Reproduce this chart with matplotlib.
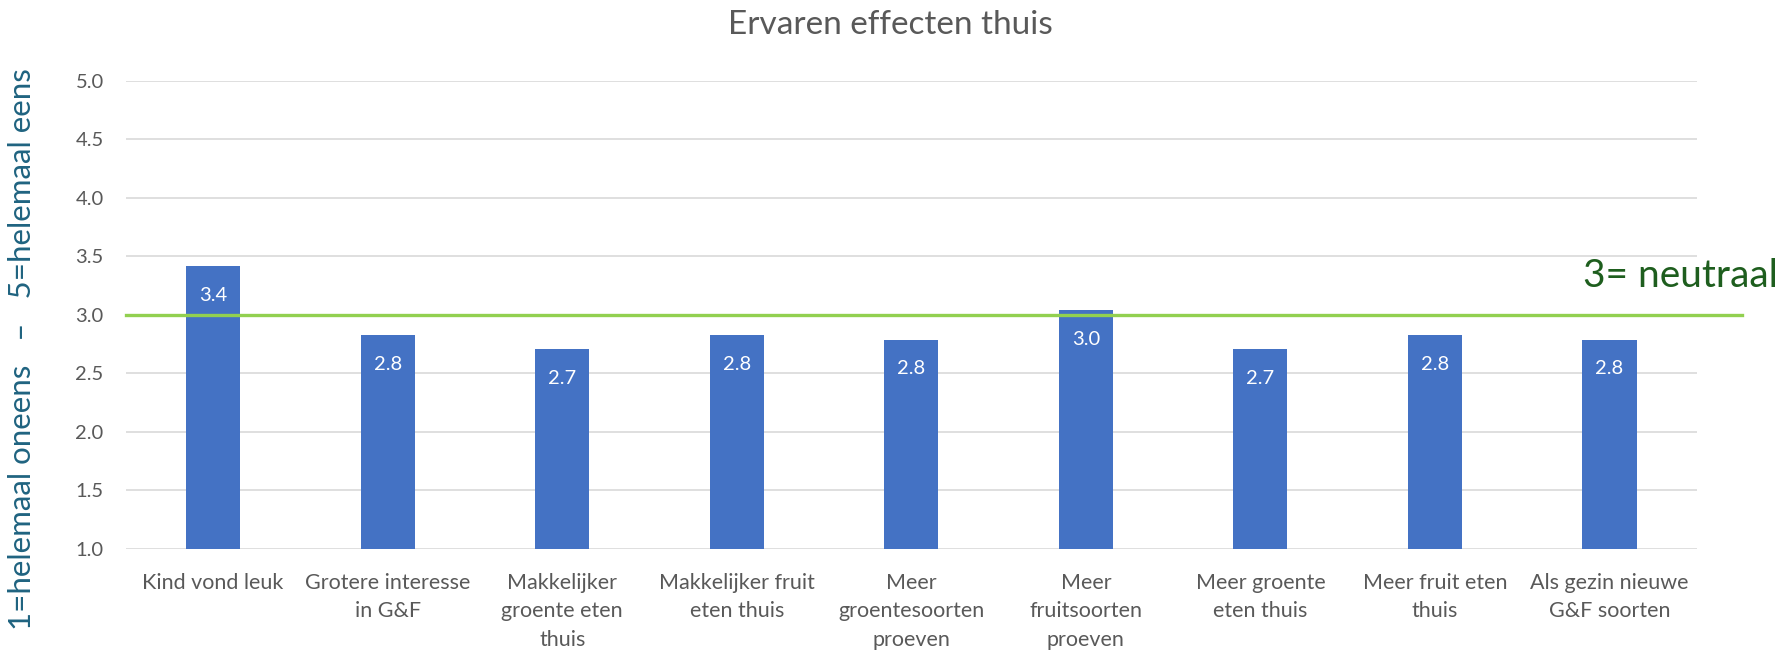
import matplotlib.pyplot as plt
import numpy as np

categories = ['Kind vond leuk', 'Grotere interesse\nin G&F', 'Makkelijker\ngroente eten\nthuis',
              'Makkelijker fruit\neten thuis', 'Meer\ngroentesoorten\nproeven', 'Meer\nfruitsoorten\nproeven',
              'Meer groente\neten thuis', 'Meer fruit eten\nthuis', 'Als gezin nieuwe\nG&F soorten']
values = [3.42, 2.83, 2.71, 2.83, 2.79, 3.04, 2.71, 2.83, 2.79]
neutral = 3.0
yticks = [1.0, 1.5, 2.0, 2.5, 3.0, 3.5, 4.0, 4.5, 5.0]

plt.rcParams['font.family'] = ['Lato', 'DejaVu Sans']

fig = plt.figure(figsize=(17.81, 6.5), dpi=100)
ax = fig.add_axes([0.0707, 0.1554, 0.882, 0.72])

x = np.arange(len(categories))
base = 1.0
bars = ax.bar(x, [v - base for v in values], width=0.31, bottom=base, color='#4472C4', zorder=2)
for b, v in zip(bars, values):
    ax.text(b.get_x() + b.get_width() / 2, v - 0.25, f'{v:.1f}', ha='center', va='center',
            color='white', fontsize=14.5, zorder=3)

ax.set_xlim(-0.5, len(categories) - 0.5)
ax.set_ylim(1.0, 5.0)
ax.set_yticks(yticks)
ax.set_yticklabels([f'{t:.1f}' for t in yticks])
ax.set_xticks(x)
ax.set_xticklabels(categories, fontsize=15.5, color='#595959', linespacing=1.55)
ax.tick_params(axis='y', labelsize=14.5, labelcolor='#595959', length=0, pad=16)
ax.tick_params(axis='x', length=0, pad=17)
ax.grid(axis='y', color='#D9D9D9', linewidth=1.2, zorder=0)
for s in ax.spines.values():
    s.set_visible(False)

ax.plot([-0.5, 8.76], [neutral, neutral], color='#92D050', linewidth=2.4, clip_on=False, zorder=4)
fig.text(0.998, 0.575, '3= neutraal', color='#1E5E1E', fontsize=28, ha='right', va='center')

fig.text(0.5, 0.962, 'Ervaren effecten thuis', fontsize=24, color='#595959', ha='center', va='center')
fig.text(0.0125, 0.463, '1=helemaal oneens   –   5=helemaal eens', rotation=90,
         fontsize=22.5, color='#1F6380', ha='center', va='center')

fig.savefig('out.png', dpi=100)
